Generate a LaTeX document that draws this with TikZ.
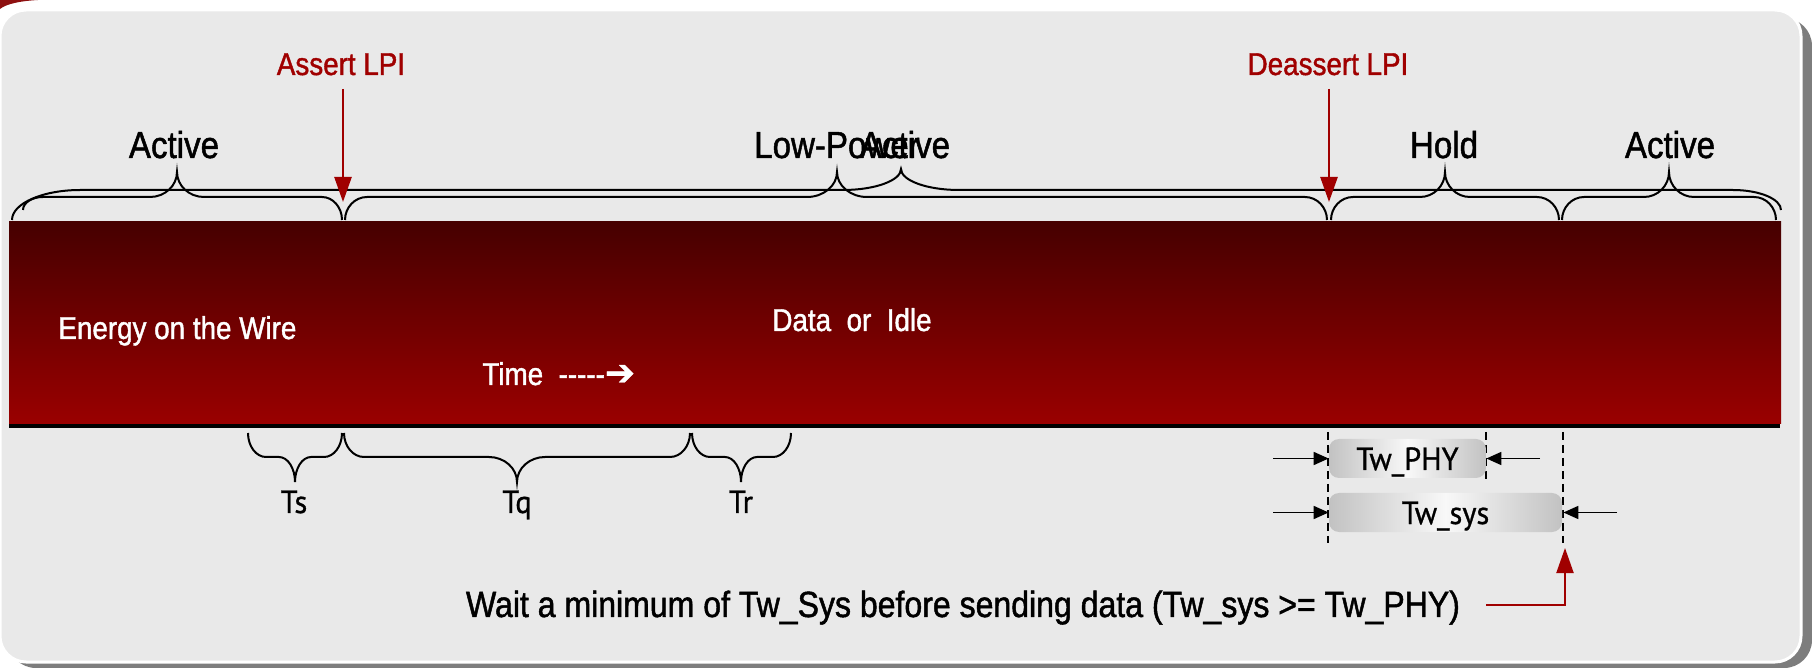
\documentclass[tikz,border=0pt]{standalone}
\usepackage{fontspec}
\setmainfont{Liberation Sans}
\newfontfamily\nar[FakeStretch=0.88,FakeBold=1.3]{Liberation Sans}
\newfontfamily\hum[FakeStretch=0.95,FakeBold=0.9]{PT Sans}
\newfontfamily\dv[FakeBold=0.8]{DejaVu Sans}
\usetikzlibrary{arrows.meta}
\definecolor{panel}{HTML}{E9E9E9}
\definecolor{shadowgrey}{HTML}{7D7D7D}
\definecolor{bandtop}{HTML}{460000}
\definecolor{bandbot}{HTML}{9A0000}
\definecolor{lpired}{HTML}{A00000}
\definecolor{boxgrey}{HTML}{C2C2C2}
\definecolor{boxwhite}{HTML}{F8F8F8}
\definecolor{cornerred}{HTML}{8E1010}
% brace: x0, x1, tip, yline, yendL, yendR, ytip, r, rt
\newcommand\brc[9]{\draw[brcline] (#1,#5) .. controls (#1,{#4+0.45*(#5-#4)}) and ({#1+0.45*#8},#4) .. ({#1+#8},#4) -- ({#3-#9},#4) .. controls ({#3-0.45*#9},#4) and (#3,{#7+0.55*(#4-#7)}) .. (#3,#7) .. controls (#3,{#7+0.55*(#4-#7)}) and ({#3+0.45*#9},#4) .. ({#3+#9},#4) -- ({#2-#8},#4) .. controls ({#2-0.45*#8},#4) and (#2,{#4+0.45*(#6-#4)}) .. (#2,#6);}
\tikzset{
  brcline/.style={draw=black, line width=1pt},
  toplbl/.style={font=\nar\fontsize{18.8}{20}\selectfont, anchor=base, inner sep=0pt},
  redlbl/.style={font=\nar\fontsize{15.8}{18}\selectfont, text=lpired, anchor=base, inner sep=0pt},
  wlbl/.style={font=\nar\fontsize{15.8}{18}\selectfont, text=white, anchor=base west, inner sep=0pt},
  tlbl/.style={font=\hum\fontsize{16}{18}\selectfont, anchor=base, inner sep=0pt},
  redarrow/.style={draw=lpired, line width=1.25pt, -{Triangle[length=12.5pt,width=8.5pt]}},
  dimarrow/.style={draw=black, line width=0.9pt, -{Triangle[length=7.5pt,width=6.5pt]}},
  dimline/.style={draw=black, line width=0.8pt, dash pattern=on 4pt off 2.5pt},
  wbox/.style={rounded corners=5pt, left color=boxgrey, right color=boxgrey, middle color=boxwhite, draw=none, inner sep=0pt, font=\hum\fontsize{16}{18}\selectfont, text height=11.5pt, text depth=0pt},
}
\begin{document}
\begin{tikzpicture}[x=0.5pt,y=-0.5pt]
\useasboundingbox (0,0) rectangle (1812,668);
\fill[white] (0,0) rectangle (1812,668);
\fill[cornerred] (0,0) -- (38,0) .. controls (20,1) and (6,4) .. (0,9) -- cycle;
\fill[shadowgrey, rounded corners=14pt] (8,18) rectangle (1812,668);
\filldraw[fill=panel, draw=white, line width=1.5pt, rounded corners=13pt] (0,10) rectangle (1801,662);

% band
\shade[top color=bandtop, bottom color=bandbot] (9,222) rectangle (1781,424);
\draw[line width=2pt] (9,426) -- (1780,426);

% top labels
\node[redlbl] (assert) at (341,75) {Assert LPI};
\node[redlbl] (deassert) at (1328,75) {Deassert LPI};
\coordinate (a1) at (343,89);
\coordinate (a2) at (343,202);
\coordinate (d1) at (1329,89);
\coordinate (d2) at (1329,202);

\node[toplbl] (act1) at (174,158) {Active};
\node[toplbl] (lowp) at (837,158) {Low-Power};
\node[toplbl] (act2) at (905,158) {Active};
\node[toplbl] (hold) at (1444,158) {Hold};
\node[toplbl] (act3) at (1670,158) {Active};

% big brace on upper line
\draw[brcline] (12,220) .. controls (12,{190+0.45*30}) and ({12+0.45*68},190) .. (80,190) -- (843,190) .. controls ({901-0.45*58},190) and (901,{169+0.55*21}) .. (901,169) .. controls (901,{169+0.55*21}) and ({901+0.45*58},190) .. (959,190) -- (1733,190) .. controls ({1781-0.45*48},190) and (1781,{190+0.45*20}) .. (1781,210);
% braces on lower line
\brc{23}{342}{177}{197}{210}{220}{172}{20}{27}
\brc{345}{1327}{837}{197}{220}{220}{172}{22}{30}
\brc{1331}{1559}{1445}{197}{220}{220}{172}{22}{25}
\brc{1562}{1776}{1669}{197}{220}{220}{172}{22}{25}

\draw[redarrow] (a1) -- (a2);
\draw[redarrow] (d1) -- (d2);

% band texts
\node[wlbl] (energy) at (58,339) {Energy on the Wire};
\node[wlbl] (data) at (772,331) {Data~~or~~Idle};
\node[wlbl] (time) at (482,385) {Time~~-{}-{}-{}-{}-{\dv\fontsize{18}{20}\selectfont ➔}};

% bottom braces
\brc{248}{342}{295}{457}{433}{433}{482}{18}{16}
\brc{344}{690}{517}{457}{433}{433}{482}{20}{28}
\brc{692}{791}{741}{457}{433}{433}{482}{18}{16}
\node[tlbl] (ts) at (294,513) {Ts};
\node[tlbl] (tq) at (517,513) {Tq};
\node[tlbl] (tr) at (741,513) {Tr};

% Tw boxes
\coordinate (v1t) at (1328,432); \coordinate (v1b) at (1328,543);
\coordinate (v2t) at (1486,432); \coordinate (v2b) at (1486,479);
\coordinate (v3t) at (1563,432); \coordinate (v3b) at (1563,543);
\draw[dimline] (v1t) -- (v1b);
\draw[dimline] (v2t) -- (v2b);
\draw[dimline] (v3t) -- (v3b);
\node[wbox, minimum width=78.5pt, minimum height=19.5pt] (phy) at (1407.5,458.5) {Tw\_PHY};
\node[wbox, minimum width=116.5pt, minimum height=19.5pt] (sys) at (1445.5,512.5) {Tw\_sys};
\coordinate (pa1) at (1273,458.5);
\coordinate (pa2) at (1540,458.5);
\coordinate (sa1) at (1273,512.5);
\coordinate (sa2) at (1617,512.5);
\draw[dimarrow] (pa1) -- (phy.west);
\draw[dimarrow] (pa2) -- (phy.east);
\draw[dimarrow] (sa1) -- (sys.west);
\draw[dimarrow] (sa2) -- ([xshift=0.5pt]sys.east);

% bottom text and red arrow
\node[font=\nar\fontsize{18.2}{20}\selectfont, anchor=base, inner sep=0pt] (wait) at (963,617) {Wait a minimum of Tw\_Sys before sending data (Tw\_sys >= Tw\_PHY)};
\coordinate (r1) at (1486,605);
\coordinate (r2) at (1565,548);
\draw[redarrow, line width=1pt] (r1) -| (r2);
\end{tikzpicture}
\end{document}
